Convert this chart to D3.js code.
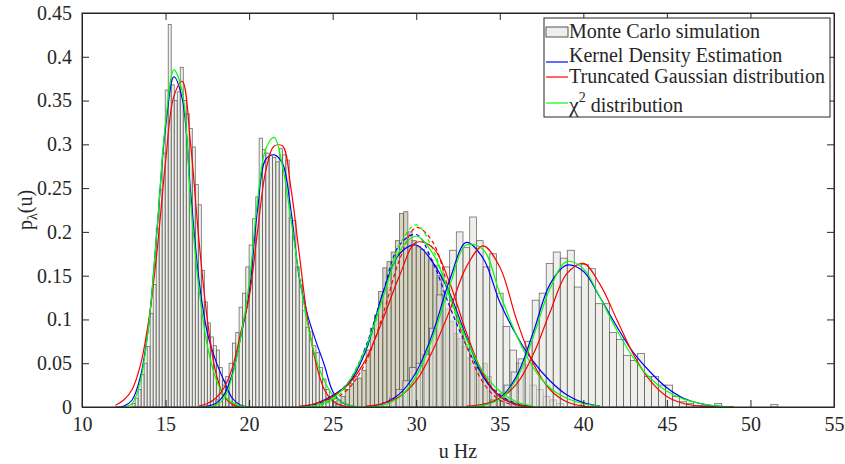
<!DOCTYPE html>
<html lang="en">
<head>
<meta charset="UTF-8">
<title>Monte Carlo histograms with fitted densities</title>
<script src="https://d3js.org/d3.v7.min.js"></script>
<style>
  body { margin: 0; background: #fff; }
  svg text { font-family: "Liberation Serif", "Times New Roman", serif; fill: #262626; }
</style>
</head>
<body>
<div id="chart"></div>
<script>
// axis ticks
const xTicks = [10, 15, 20, 25, 30, 35, 40, 45, 50, 55];
const yTicks = [0, 0.05, 0.1, 0.15, 0.2, 0.25, 0.3, 0.35, 0.4, 0.45];

// histogram groups: first bin edge, bin width, bin heights (pdf)
const g1Start = 13.0, g1Width = 0.18;
const g1Bars = [0.004, 0.01, 0.02, 0.037, 0.05, 0.069, 0.107, 0.14, 0.204, 0.248, 0.29, 0.362,
  0.437, 0.368, 0.35, 0.36, 0.388, 0.35, 0.335, 0.318, 0.297, 0.254, 0.231, 0.156, 0.12,
  0.096, 0.08, 0.07, 0.065, 0.045, 0.03, 0.02, 0.01, 0.005];

const g2Start = 18.0, g2Width = 0.2;
const g2Bars = [0.008, 0.015, 0.025, 0.035, 0.05, 0.073, 0.085, 0.114, 0.13, 0.16, 0.185, 0.215,
  0.24, 0.307, 0.294, 0.29, 0.287, 0.285, 0.28, 0.295, 0.288, 0.282, 0.216, 0.213, 0.16, 0.145,
  0.11, 0.091, 0.086, 0.07, 0.062, 0.045, 0.032, 0.02, 0.012, 0.006, 0.003];

const g3Start = 25.0, g3Width = 0.25;
const g3Bars = [0.004, 0.008, 0.012, 0.02, 0.027, 0.035, 0.033, 0.042, 0.065, 0.09, 0.105, 0.132,
  0.159, 0.166, 0.177, 0.19, 0.221, 0.223, 0.2, 0.19, 0.183, 0.18, 0.176, 0.168, 0.162, 0.15,
  0.128, 0.112, 0.098, 0.084, 0.078, 0.069, 0.056, 0.05, 0.045, 0.04, 0.05, 0.035, 0.016,
  0.012, 0.008, 0.005, 0.003];

const g4Start = 28.0, g4Width = 0.4;
const g4Bars = [0.005, 0.01, 0.02, 0.03, 0.045, 0.05, 0.06, 0.09, 0.128, 0.16, 0.179, 0.2, 0.182,
  0.217, 0.19, 0.16, 0.175, 0.13, 0.092, 0.065, 0.05, 0.048, 0.025, 0.02, 0.012, 0.008, 0.004];

const g5Start = 34.0, g5Width = 0.42;
const g5Bars = [0.004, 0.008, 0.015, 0.025, 0.04, 0.055, 0.075, 0.122, 0.13, 0.164, 0.177, 0.17,
  0.179, 0.137, 0.163, 0.158, 0.118, 0.118, 0.085, 0.077, 0.059, 0.053, 0.061, 0.035, 0.035,
  0.025, 0.025, 0.012, 0.006, 0.004, 0.002, 0.002, 0.001, 0.004, 0, 0, 0, 0, 0, 0, 0, 0.003];

// fitted curves, sampled at grid points (u, pdf)
const g1Grid = [12, 12.5, 13, 13.5, 14, 14.5, 15, 15.5, 16, 16.5, 17, 17.5, 18, 18.5, 19, 19.5, 20];
const g1Kde = [0, 0.001, 0.008, 0.035, 0.095, 0.205, 0.32, 0.377, 0.352, 0.245, 0.145, 0.085, 0.053, 0.03, 0.01, 0.002, 0];
const g1Tg = [0.002, 0.008, 0.02, 0.048, 0.1, 0.18, 0.28, 0.355, 0.372, 0.3, 0.19, 0.1, 0.04, 0.012, 0.003, 0, 0];
const g1Chi = [0, 0, 0.004, 0.03, 0.095, 0.205, 0.325, 0.385, 0.36, 0.235, 0.135, 0.07, 0.033, 0.013, 0.005, 0.001, 0];

const g2Grid = [17, 17.5, 18, 18.5, 19, 19.5, 20, 20.5, 21, 21.5, 22, 22.5, 23, 23.5, 24, 24.5, 25, 25.5, 26, 26.5];
const g2Kde = [0, 0.001, 0.004, 0.014, 0.038, 0.08, 0.13, 0.225, 0.283, 0.288, 0.278, 0.225, 0.148, 0.105, 0.075, 0.048, 0.018, 0.006, 0.002, 0];
const g2Tg = [0.001, 0.004, 0.01, 0.022, 0.045, 0.085, 0.125, 0.2, 0.27, 0.298, 0.298, 0.25, 0.175, 0.1, 0.05, 0.02, 0.007, 0.002, 0, 0];
const g2Chi = [0, 0, 0.002, 0.01, 0.036, 0.08, 0.14, 0.235, 0.295, 0.308, 0.275, 0.215, 0.15, 0.095, 0.055, 0.03, 0.014, 0.006, 0.002, 0];

const g3Grid = [23, 24, 25, 26, 27, 28, 29, 30, 31, 32, 33, 34, 35, 36, 37];
const g3Kde = [0, 0.004, 0.013, 0.028, 0.065, 0.13, 0.175, 0.185, 0.165, 0.13, 0.08, 0.035, 0.012, 0.003, 0];
const g3Tg = [0.001, 0.004, 0.012, 0.027, 0.055, 0.1, 0.15, 0.188, 0.182, 0.142, 0.085, 0.038, 0.012, 0.003, 0];
const g3Chi = [0, 0.002, 0.01, 0.03, 0.068, 0.125, 0.178, 0.195, 0.175, 0.128, 0.078, 0.04, 0.018, 0.006, 0.001];
// second (dashed) set of fits near 30 Hz
const g3KdeB = [0, 0.003, 0.012, 0.03, 0.07, 0.13, 0.185, 0.197, 0.165, 0.115, 0.07, 0.035, 0.014, 0.004, 0];
const g3TgB = [0, 0.002, 0.008, 0.022, 0.052, 0.105, 0.168, 0.205, 0.188, 0.13, 0.07, 0.028, 0.008, 0.002, 0];
const g3ChiB = [0, 0.001, 0.008, 0.027, 0.065, 0.125, 0.185, 0.208, 0.18, 0.125, 0.072, 0.034, 0.013, 0.004, 0.001];

const g4Grid = [27, 28, 29, 30, 31, 32, 33, 34, 35, 36, 37, 38, 39, 40, 41];
const g4Kde = [0, 0.004, 0.015, 0.04, 0.085, 0.145, 0.188, 0.17, 0.12, 0.082, 0.052, 0.03, 0.014, 0.005, 0.001];
const g4Tg = [0.001, 0.004, 0.012, 0.03, 0.065, 0.11, 0.16, 0.184, 0.16, 0.1, 0.05, 0.02, 0.006, 0.001, 0];
const g4Chi = [0, 0.002, 0.011, 0.035, 0.08, 0.138, 0.185, 0.18, 0.13, 0.082, 0.045, 0.022, 0.01, 0.004, 0.001];

const g5Grid = [33, 34, 35, 36, 37, 38, 39, 40, 41, 42, 43, 44, 45, 46, 47, 48, 49];
const g5Kde = [0, 0.002, 0.01, 0.035, 0.085, 0.14, 0.162, 0.155, 0.125, 0.092, 0.062, 0.04, 0.022, 0.01, 0.004, 0.001, 0];
const g5Tg = [0.001, 0.003, 0.01, 0.026, 0.06, 0.108, 0.152, 0.164, 0.14, 0.1, 0.06, 0.03, 0.012, 0.004, 0.001, 0, 0];
const g5Chi = [0, 0.002, 0.009, 0.032, 0.08, 0.135, 0.166, 0.158, 0.125, 0.088, 0.056, 0.033, 0.018, 0.009, 0.004, 0.001, 0];

const legendLabels = ["Monte Carlo simulation", "Kernel Density Estimation", "Truncated Gaussian distribution"];

// figure size and plot box
const width = 845, height = 464;
const margin = {left: 82, top: 13, right: 11, bottom: 57};
const tickLen = 7;

const svg = d3.select("#chart").append("svg")
  .attr("width", width).attr("height", height);

const x = d3.scaleLinear().domain([10, 55]).range([margin.left, width - margin.right]);
const y = d3.scaleLinear().domain([0, 0.45]).range([height - margin.bottom, margin.top]);

const plot = svg.append("g");
plot.append("clipPath").attr("id", "box")
  .append("rect")
  .attr("x", margin.left).attr("y", margin.top)
  .attr("width", x(55) - x(10)).attr("height", y(0) - y(0.45));

// histograms
const groups = [
  {start: g3Start, w: g3Width, bars: g3Bars, fill: "#bdb896"},
  {start: g1Start, w: g1Width, bars: g1Bars, fill: "#e2e2dc"},
  {start: g2Start, w: g2Width, bars: g2Bars, fill: "#e2e2dc"},
  {start: g4Start, w: g4Width, bars: g4Bars, fill: "#e2e2dc"},
  {start: g5Start, w: g5Width, bars: g5Bars, fill: "#e2e2dc"}
];

groups.forEach(g => {
  const bins = g.bars.map((v, i) => ({x0: g.start + i * g.w, x1: g.start + (i + 1) * g.w, v}))
    .filter(d => d.v > 0);
  plot.append("g")
    .selectAll("rect")
    .data(bins)
    .enter()
    .append("rect")
    .attr("x", d => x(d.x0))
    .attr("y", d => y(d.v))
    .attr("width", d => x(d.x1) - x(d.x0))
    .attr("height", d => y(0) - y(d.v))
    .attr("fill", g.fill)
    .attr("fill-opacity", 0.6)
    .attr("stroke", "#555")
    .attr("stroke-opacity", 0.85)
    .attr("stroke-width", 0.8);
});

// curves
const line = d3.line()
  .x(d => x(d[0]))
  .y(d => y(d[1]))
  .curve(d3.curveCatmullRom.alpha(0.5));

const curves = [
  {grid: g1Grid, v: g1Kde, c: "#0000ff"}, {grid: g1Grid, v: g1Tg, c: "#ff0000"}, {grid: g1Grid, v: g1Chi, c: "#00ff00"},
  {grid: g2Grid, v: g2Kde, c: "#0000ff"}, {grid: g2Grid, v: g2Tg, c: "#ff0000"}, {grid: g2Grid, v: g2Chi, c: "#00ff00"},
  {grid: g3Grid, v: g3KdeB, c: "#0000ff", dash: "4,3"}, {grid: g3Grid, v: g3TgB, c: "#ff0000", dash: "4,3"},
  {grid: g3Grid, v: g3ChiB, c: "#00ff00", dash: "4,3"},
  {grid: g3Grid, v: g3Kde, c: "#0000ff"}, {grid: g3Grid, v: g3Tg, c: "#ff0000"}, {grid: g3Grid, v: g3Chi, c: "#00ff00"},
  {grid: g4Grid, v: g4Kde, c: "#0000ff"}, {grid: g4Grid, v: g4Tg, c: "#ff0000"}, {grid: g4Grid, v: g4Chi, c: "#00ff00"},
  {grid: g5Grid, v: g5Kde, c: "#0000ff"}, {grid: g5Grid, v: g5Tg, c: "#ff0000"}, {grid: g5Grid, v: g5Chi, c: "#00ff00"}
];

const curveG = plot.append("g").attr("clip-path", "url(#box)");
curves.forEach(cv => {
  curveG.append("path")
    .datum(cv.grid.map((u, i) => [u, cv.v[i]]))
    .attr("d", line)
    .attr("fill", "none")
    .attr("stroke", cv.c)
    .attr("stroke-width", 1.2)
    .attr("stroke-dasharray", cv.dash || null);
});

// axes: ticks inward on all four sides, box around
const axisG = svg.append("g").attr("color", "#262626");
const xAxis = d3.axisBottom(x).tickValues(xTicks).tickSizeInner(-tickLen).tickSizeOuter(0).tickPadding(10);
const xTop = d3.axisTop(x).tickValues(xTicks).tickSizeInner(-tickLen).tickSizeOuter(0).tickFormat("");
const yAxis = d3.axisLeft(y).tickValues(yTicks).tickSizeInner(-tickLen).tickSizeOuter(0).tickPadding(10)
  .tickFormat(d => d3.format("")(d));
const yRight = d3.axisRight(y).tickValues(yTicks).tickSizeInner(-tickLen).tickSizeOuter(0).tickFormat("");

axisG.append("g").attr("transform", `translate(0,${y(0)})`).call(xAxis);
axisG.append("g").attr("transform", `translate(0,${y(0.45)})`).call(xTop);
axisG.append("g").attr("transform", `translate(${x(10)},0)`).call(yAxis);
axisG.append("g").attr("transform", `translate(${x(55)},0)`).call(yRight);
axisG.selectAll("text").attr("font-size", "20px").attr("font-family", "Liberation Serif, serif");

svg.append("rect")
  .attr("x", x(10)).attr("y", y(0.45))
  .attr("width", x(55) - x(10)).attr("height", y(0) - y(0.45))
  .attr("fill", "none").attr("stroke", "#262626").attr("stroke-width", 1);

// axis titles
svg.append("text")
  .attr("x", (x(10) + x(55)) / 2)
  .attr("y", 458)
  .attr("text-anchor", "middle")
  .attr("font-size", "20px")
  .text("u Hz");

const yl = svg.append("text")
  .attr("transform", `translate(32,${(y(0) + y(0.45)) / 2}) rotate(-90)`)
  .attr("text-anchor", "middle")
  .attr("font-size", "20px");
yl.append("tspan").text("p");
yl.append("tspan").attr("font-size", "14px").attr("dy", 5).text("λ");
yl.append("tspan").attr("dy", -5).text("(u)");

// legend
const lg = svg.append("g");
lg.append("rect")
  .attr("x", 544).attr("y", 18).attr("width", 286).attr("height", 99)
  .attr("fill", "#fff").attr("stroke", "#262626").attr("stroke-width", 1);

lg.append("rect")
  .attr("x", 546).attr("y", 27).attr("width", 22).attr("height", 10)
  .attr("fill", "#e2e2dc").attr("fill-opacity", 0.6).attr("stroke", "#555");

const legendLines = [
  {c: "#0000ff", ly: 62, ty: 62},
  {c: "#ff0000", ly: 77, ty: 83}
];
lg.append("text").attr("x", 569).attr("y", 38).attr("font-size", "20px").text(legendLabels[0]);
legendLines.forEach((d, i) => {
  lg.append("line").attr("x1", 546).attr("x2", 568).attr("y1", d.ly).attr("y2", d.ly)
    .attr("stroke", d.c).attr("stroke-width", 1.2);
  lg.append("text").attr("x", 569).attr("y", d.ty).attr("font-size", "20px").text(legendLabels[i + 1]);
});
lg.append("line").attr("x1", 546).attr("x2", 568).attr("y1", 103).attr("y2", 103)
  .attr("stroke", "#00ff00").attr("stroke-width", 1.2);
const chiText = lg.append("text").attr("x", 569).attr("y", 112).attr("font-size", "20px");
chiText.append("tspan").attr("font-size", "22px").text("χ");
chiText.append("tspan").attr("font-size", "14px").attr("dy", -10).text("2");
chiText.append("tspan").attr("dy", 10).text(" distribution");
</script>
</body>
</html>
